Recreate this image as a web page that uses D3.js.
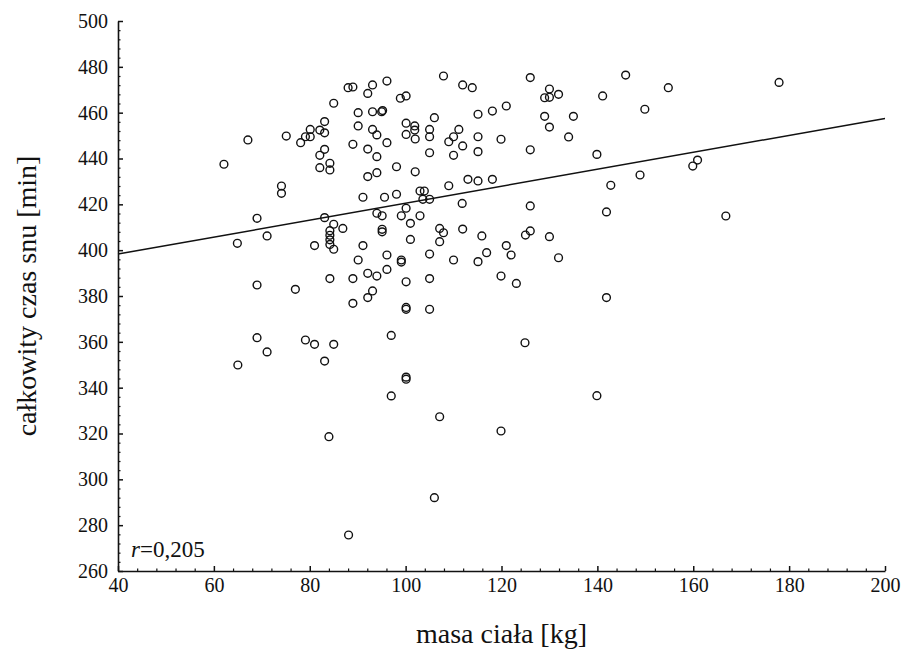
<!DOCTYPE html>
<html><head><meta charset="utf-8">
<script src="https://cdn.jsdelivr.net/npm/d3@7/dist/d3.min.js"></script>
<style>
html,body{margin:0;padding:0;background:#fff;}
svg, svg text{font-family:"Liberation Serif","Times New Roman",serif !important;}
</style></head>
<body>
<svg id="chart" width="903" height="650"></svg>
<script>
// ---- data ----
const massKg = [
62.1,67.1,75.1,78.1,79.1,80.1,80.1,82.1,83.1,74.1,74.1,69.0,71.1,64.9,69.0,77.0,69.0,79.1,71.1,65.0,
84.0,88.1,106.0,119.9,107.1,139.9,177.9,159.9,160.9,166.8,126.0,145.9,154.8,130.0,129.0,130.0,131.9,121.0,118.1,141.1,
149.9,129.0,135.0,130.0,134.0,119.9,126.0,139.9,148.9,142.8,118.1,126.0,141.9,126.0,125.0,130.0,121.0,122.0,131.9,119.9,
123.1,141.9,124.9,81.0,85.0,91.1,90.1,95.1,95.1,101.0,107.1,107.9,107.1,111.9,115.9,96.1,99.1,99.1,105.0,110.0,
115.1,116.9,84.2,89.0,92.1,94.0,96.1,100.1,105.0,93.1,92.1,89.0,100.1,100.1,105.0,97.0,81.0,85.0,83.1,100.1,
100.1,97.0,107.9,111.9,113.9,96.1,88.0,89.0,93.1,92.1,98.9,100.1,85.0,90.1,93.1,95.0,95.2,106.0,115.1,83.1,
90.1,100.1,101.9,101.9,105.0,111.1,93.1,94.0,100.1,102.0,105.0,109.0,110.0,111.9,115.1,115.1,89.0,92.1,96.1,83.1,
82.1,94.0,105.0,110.0,82.1,84.2,84.2,98.1,102.0,94.0,92.1,109.0,113.0,115.1,103.0,103.9,103.6,105.0,98.1,95.6,
91.1,111.8,94.0,95.1,99.1,100.1,103.0,83.1,101.0,85.0,86.9,84.2,84.2,84.2,84.2
];
const sleepMin = [
437.5,448.1,449.8,446.9,449.5,449.5,452.7,452.4,451.2,428.0,424.8,413.9,406.2,403.0,384.8,382.9,361.8,360.8,355.6,349.9,
318.6,275.7,292.0,321.1,327.3,336.5,473.2,436.7,439.3,414.9,475.3,476.4,470.9,470.3,466.5,466.7,468.0,462.9,460.7,467.3,
461.5,458.4,458.4,453.7,449.4,448.4,443.8,441.8,432.8,428.3,430.9,419.3,416.7,408.4,406.6,405.9,402.0,397.9,396.7,388.7,
385.5,379.3,359.6,402.0,400.4,402.0,395.7,409.1,408.0,404.7,409.5,407.6,403.7,409.2,406.2,397.9,395.7,394.8,398.3,395.7,
395.0,398.9,387.6,387.6,389.9,388.7,391.6,386.2,387.6,382.2,379.3,376.8,375.0,374.2,374.2,362.8,358.9,358.9,351.6,344.6,
343.7,336.4,476.0,472.1,470.9,473.8,470.9,471.2,472.1,468.4,466.3,467.3,464.1,460.0,460.4,460.4,460.9,457.8,459.3,456.1,
454.2,455.4,454.2,452.4,452.7,452.7,452.7,450.3,450.5,448.5,449.5,447.3,449.5,445.5,449.5,443.0,446.2,444.1,446.9,444.0,
441.4,440.8,442.5,441.4,436.0,437.9,435.0,436.4,434.2,433.8,432.1,428.1,430.9,430.2,425.8,425.8,422.2,422.2,424.4,423.1,
423.1,420.4,416.1,415.0,415.0,418.3,415.0,414.2,411.7,411.3,409.5,408.5,406.5,404.5,402.5
];
// fitted line end points
const fitX = [40, 200];
const fitY = [398.3, 457.5];
const xTicks = [40, 60, 80, 100, 120, 140, 160, 180, 200];
const yTicks = [260, 280, 300, 320, 340, 360, 380, 400, 420, 440, 460, 480, 500];
const xTitle = "masa ciała [kg]";
const yTitle = "całkowity czas snu [min]";

// ---- chart ----
(function () {
const FONT = '"Liberation Serif", "Times New Roman", serif';
const svg = d3.select("#chart").attr("font-family", FONT);
const pL = 118, pR = 885, pT = 21, pB = 571;
const x = d3.scaleLinear().domain([40, 200]).range([pL, pR]);
const y = d3.scaleLinear().domain([260, 500]).range([pB, pT]);
const ink = "#111";

// minor ticks
const xMinor = d3.range(40, 200.01, 4).filter(v => !xTicks.includes(v));
const yMinor = d3.range(260, 500.01, 4).filter(v => !yTicks.includes(v));
svg.append("g").attr("transform", `translate(0,${pB})`)
  .call(d3.axisBottom(x).tickValues(xMinor).tickSize(-2.5).tickSizeOuter(0).tickFormat(""))
  .call(g => g.select(".domain").remove())
  .call(g => g.selectAll("line").attr("stroke", ink).attr("stroke-width", 1.2));
svg.append("g").attr("transform", `translate(${pL},0)`)
  .call(d3.axisLeft(y).tickValues(yMinor).tickSize(-2.5).tickSizeOuter(0).tickFormat(""))
  .call(g => g.select(".domain").remove())
  .call(g => g.selectAll("line").attr("stroke", ink).attr("stroke-width", 1.2));

// major axes
const gx = svg.append("g").attr("transform", `translate(0,${pB})`)
  .call(d3.axisBottom(x).tickValues(xTicks).tickSize(-5).tickSizeOuter(0).tickPadding(7).tickFormat(d3.format("d")));
const gy = svg.append("g").attr("transform", `translate(${pL},0)`)
  .call(d3.axisLeft(y).tickValues(yTicks).tickSize(-5).tickSizeOuter(0).tickPadding(10).tickFormat(d3.format("d")));
[gx, gy].forEach(g => {
  g.attr("font-family", FONT).attr("font-size", 20);
  g.select(".domain").attr("stroke", ink).attr("stroke-width", 1.6);
  g.selectAll(".tick line").attr("stroke", ink).attr("stroke-width", 1.5);
  g.selectAll("text").attr("fill", ink).attr("font-family", FONT).attr("font-size", 20);
});

// fitted line
svg.append("line")
  .attr("x1", x(fitX[0])).attr("y1", y(fitY[0]))
  .attr("x2", x(fitX[1])).attr("y2", y(fitY[1]))
  .attr("stroke", ink).attr("stroke-width", 1.5);

// points
svg.append("g").selectAll("circle")
  .data(massKg.map((m, i) => [m, sleepMin[i]]))
  .join("circle")
  .attr("cx", d => x(d[0])).attr("cy", d => y(d[1]))
  .attr("r", 3.9).attr("fill", "none").attr("stroke", ink).attr("stroke-width", 1.4);

// titles
svg.append("text").attr("x", (pL + pR) / 2).attr("y", 643)
  .attr("text-anchor", "middle").attr("fill", ink).attr("font-family", FONT).attr("font-size", 28).text(xTitle);
svg.append("text").attr("transform", `translate(36,${(pT + pB) / 2}) rotate(-90)`)
  .attr("text-anchor", "middle").attr("fill", ink).attr("font-family", FONT).attr("font-size", 28).text(yTitle);

// r annotation
const rt = svg.append("text").attr("x", 131).attr("y", 557).attr("fill", ink)
  .attr("font-family", FONT).attr("font-size", 23);
rt.append("tspan").attr("font-style", "italic").text("r");
rt.append("tspan").text("=0,205");
})();
</script>
</body></html>
